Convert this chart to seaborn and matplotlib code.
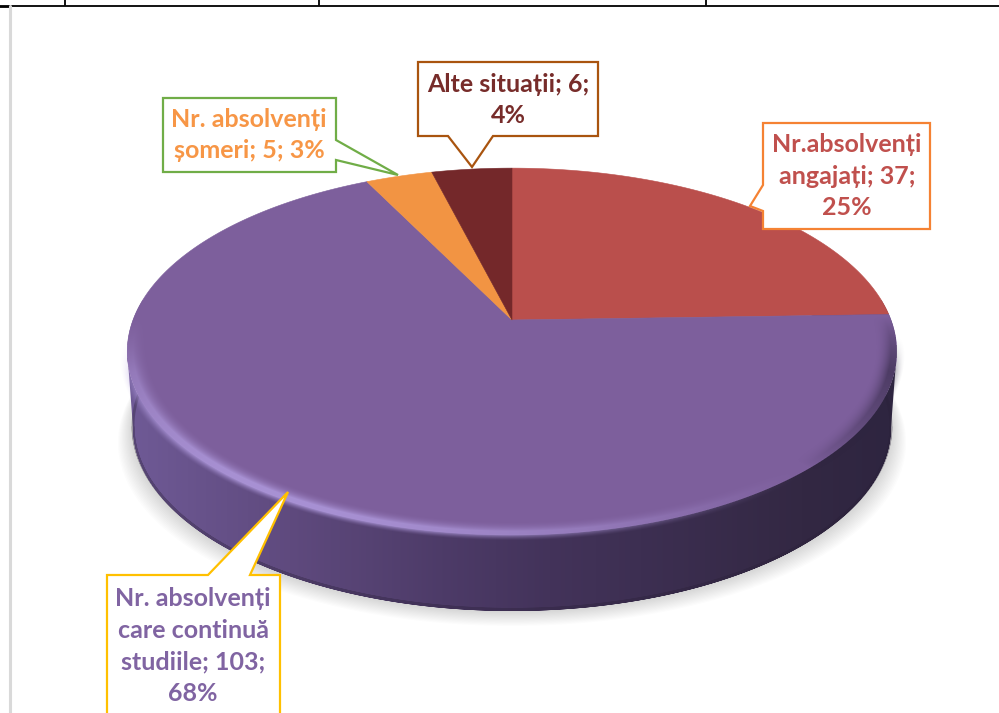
import numpy as np
import matplotlib
matplotlib.use('Agg')
import matplotlib.pyplot as plt
from matplotlib.colors import LinearSegmentedColormap, to_rgb
from matplotlib.patches import Polygon
import seaborn as sns

categories = ['Nr.absolvenți\nangajați', 'Nr. absolvenți\ncare continuă\nstudiile', 'Nr. absolvenți\nșomeri', 'Alte situații']
values = [37, 103, 5, 6]
percents = [25, 68, 3, 4]
label_text = ['Nr.absolvenți\nangajați; 37;\n25%', 'Nr. absolvenți\ncare continuă\nstudiile; 103;\n68%',
              'Nr. absolvenți\nșomeri; 5; 3%', 'Alte situații; 6;\n4%']
slice_colors = ['#ba4f4c', '#7d5f9c', '#f29443', '#74282a']
text_colors = ['#c0504d', '#8064a2', '#f79646', '#772c2a']
box_colors = ['#f58233', '#ffc000', '#70ad47', '#a9540f']

sns.set_theme(style='white')
plt.rcParams['font.family'] = ['Lato', 'DejaVu Sans']

fig = plt.figure(figsize=(9.99, 7.13), dpi=100)
ax = fig.add_axes([0, 0, 1, 1])

# pie gives the slice angles, they get warped into the tilted view below
wedges, _ = ax.pie(values, startangle=90, counterclock=False, colors=sns.color_palette(slice_colors))
angles = [(w.theta1, w.theta2) for w in wedges]
for w in wedges:
    w.remove()

cx, cy = 512, 320
sx, sy, k = 379, 178, 0.172
depth = 76


def warp(u, v, shrink=1.0, down=0):
    w = 1 + k * v
    return cx + shrink * sx * u / w, cy - sy * v / w + down


t = np.radians(np.linspace(0, 360, 721))
rim_x, rim_y = warp(np.cos(t), np.sin(t))
low_x, low_y = warp(np.cos(t), np.sin(t), 0.985, depth)

# outline of the front wall
left, right = np.argmin(rim_x), np.argmax(rim_x)
front = np.radians(np.linspace(t[left] * 180 / np.pi, 360 + t[right] * 180 / np.pi, 400))
fx, fy = warp(np.cos(front), np.sin(front))
bx, by = warp(np.cos(front), np.sin(front), 0.985, depth)
wall = np.column_stack([np.r_[fx, bx[::-1]], np.r_[fy, by[::-1]]])

# soft shadow
for grow in np.linspace(1, 20, 14):
    sh = Polygon(np.column_stack([cx + (low_x - cx) * (1 + grow / 500), low_y + grow * 0.75]),
                 fc='black', ec='none', alpha=0.01, zorder=1)
    ax.add_patch(sh)

# wall gradient, left to right
wall_cmap = LinearSegmentedColormap.from_list('wall', [(0, '#6f5a96'), (0.1, '#67528a'), (0.21, '#5f4a7e'),
                                                       (0.41, '#4d3b68'), (0.55, '#43335a'), (0.67, '#3d2f52'),
                                                       (0.88, '#332843'), (1, '#2e2540')])
im = ax.imshow(np.linspace(0, 1, 400).reshape(1, -1), cmap=wall_cmap, extent=[127, 896, 620, 300],
               aspect='auto', zorder=2, interpolation='bilinear')
clip = Polygon(wall, transform=ax.transData, fc='none', ec='none')
ax.add_patch(clip)
im.set_clip_path(clip)

# dark lip along the bottom edge of the wall
bottom_x, bottom_y = warp(np.cos(front), np.sin(front), 0.985, depth - 1.5)
ax.plot(bottom_x, bottom_y, color='#2a2038', lw=2, alpha=0.35, zorder=2.5, solid_capstyle='butt')

# top faces
for (a1, a2), col in zip(angles, slice_colors):
    th = np.radians(np.linspace(a1, a2, 300))
    x, y = warp(np.r_[0, np.cos(th)], np.r_[0, np.sin(th)])
    ax.add_patch(Polygon(np.column_stack([x, y]), fc=col, ec=col, lw=0.4, zorder=3))

# bevel along the front rim, worked out per pixel from the warp inverse
px, py = np.meshgrid(np.arange(999) + 0.5, np.arange(713) + 0.5)
gx, gy = (px - cx) / sx, (cy - py) / sy
gw = 1 / (1 - k * gy)
gu, gv = gx * gw, gy * gw
r = np.hypot(gu, gv)
th = np.arctan2(gv, gu)
s = np.cos(th - np.radians(238)) - 0.25
front_w = np.clip((0.02 - np.sin(th)) / 0.3, 0, 1)
band = np.where(r < 1, np.clip((r - 0.945) / 0.04, 0, 1) ** 2, np.clip((1.022 - r) / 0.022, 0, 1) ** 1.5)
band = band * np.where(r < 1, 1, np.clip(-np.sin(th) / 0.3 - 0.3, 0, 1))
hi, lo = np.array(to_rgb('#ad97da')), np.array(to_rgb('#2e2540'))
rgba = np.zeros(px.shape + (4,))
rgba[..., :3] = np.where((s > 0)[..., None], hi, lo)
strength = np.where(s > 0, 0.9 * np.clip(s / 0.75, 0, 1) ** 1.5, 0.95 * np.clip(-s / 1.0, 0, 1) ** 0.7)
rgba[..., 3] = band * front_w * strength
ax.imshow(rgba, extent=[0, 999, 713, 0], aspect='auto', zorder=3.5, interpolation='bilinear')

# callouts, one per slice
callouts = [
    [(763, 123), (930, 123), (930, 229), (763, 229), (763, 211), (750, 206), (763, 185)],
    [(107, 575), (208, 575), (288, 492), (250, 575), (280, 575), (280, 720), (107, 720)],
    [(163, 98), (336, 98), (336, 140), (398, 175), (336, 160), (336, 172), (163, 172)],
    [(418, 62), (598, 62), (598, 136), (493, 136), (472, 167), (448, 136), (418, 136)],
]
anchors = [(847, 176), (193, 646), (249, 135), (508, 100)]
for pts, txt, tc, bc, (tx, ty) in zip(callouts, label_text, text_colors, box_colors, anchors):
    ax.add_patch(Polygon(pts, fc='white', ec=bc, lw=1.6, joinstyle='miter', zorder=5))
    ax.text(tx, ty, txt, color=tc, fontsize=18, fontweight='bold', ha='center', va='center',
            linespacing=1.45, zorder=6)

# bits of the page around the chart
ax.plot([0, 999], [5.5, 5.5], color='black', lw=1.3, zorder=7)
ax.plot([0, 9], [6.5, 6.5], color='black', lw=1.3, zorder=7)
for x in [65, 319, 706]:
    ax.plot([x, x], [0, 5], color='black', lw=1.3, zorder=7)
ax.plot([10, 10], [6, 713], color='#d9d9d9', lw=2.2, zorder=7)

ax.set_aspect('auto')
ax.set_xlim(0, 999)
ax.set_ylim(713, 0)
ax.axis('off')

fig.savefig('out.png', dpi=100, facecolor='white')
